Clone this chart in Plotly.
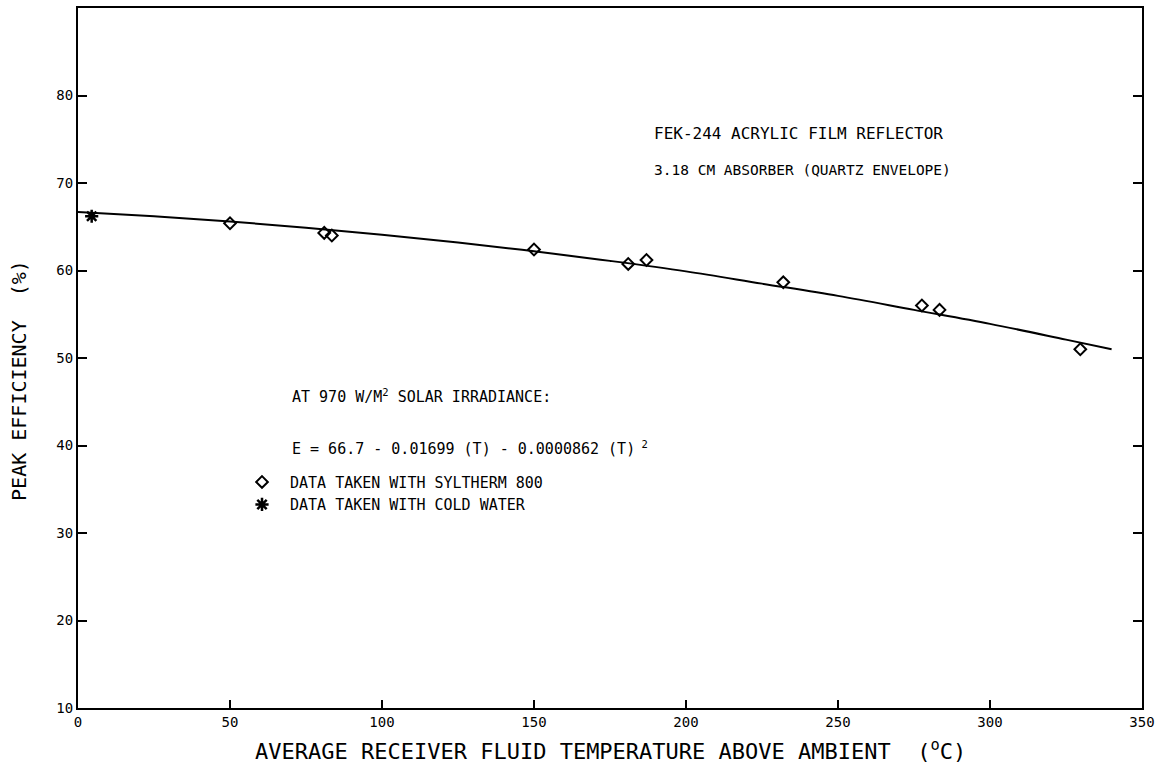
import plotly.graph_objects as go

# Data
sylt_temp = [50, 81, 83.5, 150, 181, 187, 232, 277.6, 283.4, 329.7]
sylt_eff = [65.4, 64.3, 64.0, 62.4, 60.75, 61.2, 58.65, 56.0, 55.5, 51.0]
water_temp = [4.5]
water_eff = [66.2]

# Fitted curve
curve_temp = [0, 25, 50, 75, 100, 125, 150, 175, 200, 225, 250, 275, 300, 325, 340]
curve_eff = [66.7, 66.2, 65.6, 64.9, 64.1, 63.2, 62.2, 61.1, 59.9, 58.5, 57.1, 55.5, 53.9, 52.1, 51.0]

x_ticks = [0, 50, 100, 150, 200, 250, 300, 350]
y_ticks = [10, 20, 30, 40, 50, 60, 70, 80]

FONT = "DejaVu Sans Mono"
W, H = 1164, 771
L, R, T, B = 78, 22, 6, 63
PW, PH = W - L - R, H - T - B


def px(x):
    return (x - L) / PW


def py(y):
    return (H - B - y) / PH


fig = go.Figure()
fig.add_trace(go.Scatter(x=curve_temp, y=curve_eff, mode="lines",
                         line=dict(color="black", width=2, shape="spline"),
                         showlegend=False, hoverinfo="skip"))
fig.add_trace(go.Scatter(x=sylt_temp, y=sylt_eff, mode="markers", name="DATA TAKEN WITH SYLTHERM 800",
                         marker=dict(symbol="diamond-open", size=9, color="black",
                                     line=dict(width=2, color="black"))))
fig.add_trace(go.Scatter(x=water_temp, y=water_eff, mode="markers", name="DATA TAKEN WITH COLD WATER",
                         marker=dict(symbol="asterisk-open", size=11, color="black",
                                     line=dict(width=2.5, color="black"))))

fig.update_layout(
    width=W, height=H,
    margin=dict(l=L, r=R, t=T, b=B),
    paper_bgcolor="white", plot_bgcolor="white",
    font=dict(family=FONT, color="black", size=14),
    legend=dict(x=px(234), y=py(465), xanchor="left", yanchor="top", bgcolor="rgba(0,0,0,0)",
                font=dict(family=FONT, size=15), itemwidth=46, tracegroupgap=0),
    xaxis=dict(range=[0, 350], tickvals=x_ticks, ticks="inside", ticklen=8, tickwidth=2, tickcolor="black",
               showline=True, linecolor="black", linewidth=2, mirror=True, showgrid=False, zeroline=False,
               tickfont=dict(family=FONT, size=14)),
    yaxis=dict(range=[10, 90], tickvals=y_ticks, ticks="inside", ticklen=9, tickwidth=2, tickcolor="black",
               showline=True, linecolor="black", linewidth=2, mirror="ticks", showgrid=False, zeroline=False,
               tickfont=dict(family=FONT, size=14)),
    annotations=[
        dict(xref="paper", yref="paper", x=px(652), y=py(132), xanchor="left", yanchor="middle",
             text="FEK-244 ACRYLIC FILM REFLECTOR", showarrow=False, font=dict(family=FONT, size=16)),
        dict(xref="paper", yref="paper", x=px(652), y=py(168), xanchor="left", yanchor="middle",
             text="3.18 CM ABSORBER (QUARTZ ENVELOPE)", showarrow=False, font=dict(family=FONT, size=14.5)),
        dict(xref="paper", yref="paper", x=px(290), y=py(395), xanchor="left", yanchor="middle",
             text="AT 970 W/M<sup>2</sup> SOLAR IRRADIANCE:", showarrow=False, font=dict(family=FONT, size=15)),
        dict(xref="paper", yref="paper", x=px(290), y=py(447), xanchor="left", yanchor="middle",
             text="E = 66.7 - 0.01699 (T) - 0.0000862 (T)<sup> 2</sup>", showarrow=False,
             font=dict(family=FONT, size=15)),
        dict(xref="paper", yref="paper", x=px(253), y=py(750), xanchor="left", yanchor="middle",
             text="AVERAGE RECEIVER FLUID TEMPERATURE ABOVE AMBIENT  (<sup>o</sup>C)", showarrow=False,
             font=dict(family=FONT, size=22)),
        dict(xref="paper", yref="paper", x=px(19), y=py(380), xanchor="center", yanchor="middle",
             textangle=-90, text="PEAK EFFICIENCY  (%)", showarrow=False, font=dict(family=FONT, size=20)),
    ],
)

fig.write_html("out.html")
